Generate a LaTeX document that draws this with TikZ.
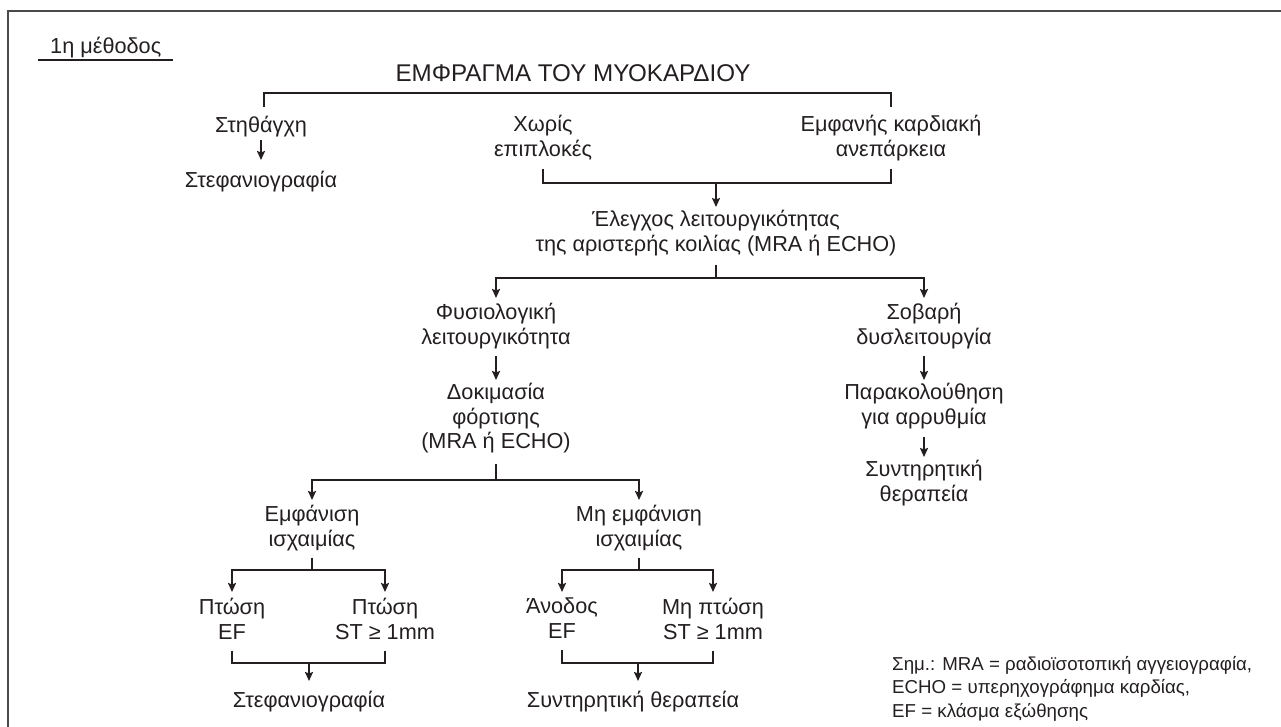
\documentclass[tikz,border=0pt]{standalone}
\usepackage{fontspec}
\setmainfont{Liberation Sans}
\usetikzlibrary{arrows.meta}
\definecolor{ink}{HTML}{231F20}
\definecolor{framec}{HTML}{4A4A4A}
\newlength\fitlen
\AtBeginDocument{%
  \settowidth\fitlen{\normalfont\fontsize{10}{12}\selectfont της αριστερής κοιλίας (MRA ή ECHO)}%
  \pgfmathsetmacro\bfs{10*361/\fitlen}%
  \settowidth\fitlen{\normalfont\fontsize{10}{12}\selectfont ΕΜΦΡΑΓΜΑ ΤΟΥ ΜΥΟΚΑΡΔΙΟΥ}%
  \pgfmathsetmacro\tfs{10*355/\fitlen}%
  \settowidth\fitlen{\normalfont\fontsize{10}{12}\selectfont Σημ.: MRA = ραδιοϊσοτοπική αγγειογραφία,}%
  \pgfmathsetmacro\nfs{10*360/\fitlen}%
}
\begin{document}
\begin{tikzpicture}[x=1pt,y=-1pt,
  txt/.style={anchor=north,align=center,inner sep=0pt,text=ink,
    font=\fontsize{\bfs}{24.5}\selectfont,
    execute at begin node=\strut, execute at end node=\strut},
  ln/.style={draw=ink,line width=1.8pt},
  arr/.style={ln,-{Stealth[length=9pt,width=8pt,inset=1.5pt]}}]
\useasboundingbox (0,0) rectangle (1281,727);
% frame
\draw[framec,line width=2pt] (8,727) -- (8,11) -- (1281,11);
% heading
\node[anchor=base west,inner sep=0pt,text=ink,font=\fontsize{\bfs}{24.5}\selectfont] (meth) at (50,54) {1η μέθοδος};
\draw[ln,line width=1.5pt] (38,60) -- (173,60);
\node[anchor=base,inner sep=0pt,text=ink,font=\fontsize{\tfs}{30}\selectfont] (title) at (573,82) {ΕΜΦΡΑΓΜΑ ΤΟΥ ΜΥΟΚΑΡΔΙΟΥ};
% nodes
\node[txt] (stith) at (261,115) {Στηθάγχη};
\node[txt] (stef1) at (261,170) {Στεφανιογραφία};
\node[txt] (xoris) at (543,115) {Χωρίς\\επιπλοκές};
\node[txt] (emfan) at (891,115) {Εμφανής καρδιακή\\ανεπάρκεια};
\node[txt] (elegx) at (716,210) {Έλεγχος λειτουργικότητας\\της αριστερής κοιλίας (MRA ή ECHO)};
\node[txt] (fysio) at (496,303) {Φυσιολογική\\λειτουργικότητα};
\node[txt] (sovar) at (924,303) {Σοβαρή\\δυσλειτουργία};
\node[txt] (dokim) at (496,383) {Δοκιμασία\\φόρτισης\\(MRA ή ECHO)};
\node[txt] (parak) at (924,383) {Παρακολούθηση\\για αρρυθμία};
\node[txt] (synt1) at (924,460) {Συντηρητική\\θεραπεία};
\node[txt] (emfis) at (312,505) {Εμφάνιση\\ισχαιμίας};
\node[txt] (miemf) at (639,505) {Μη εμφάνιση\\ισχαιμίας};
\node[txt] (pt1) at (232,598) {Πτώση\\EF};
\node[txt] (pt2) at (385,598) {Πτώση\\ST ≥ 1mm};
\node[txt] (anod) at (562,598) {Άνοδος\\EF};
\node[txt] (mipt) at (713,598) {Μη πτώση\\ST ≥ 1mm};
\node[txt] (stef2) at (309,690) {Στεφανιογραφία};
\node[txt] (synt2) at (633,690) {Συντηρητική θεραπεία};
\node[txt,anchor=north west,align=left,font=\fontsize{\nfs}{23.5}\selectfont] (note) at (892,656) {Σημ.: MRA = ραδιοϊσοτοπική αγγειογραφία,\\ECHO = υπερηχογράφημα καρδίας,\\EF = κλάσμα εξώθησης};
% junction coordinates
\coordinate (topL) at (264,107);
\coordinate (topR) at (891,107);
\coordinate (j1) at (716,183);
\coordinate (j2) at (716,278);
\coordinate (j3) at (496,480);
\coordinate (j4) at (312,570);
\coordinate (j5) at (639,570);
\coordinate (j6) at (309,663);
\coordinate (j7) at (638,663);
% top bracket
\draw[ln] (topL) -- (topL |- 0,93) -- (topR |- 0,93) -- (topR);
% left column
\draw[arr] (stith.south) -- ([yshift=10pt]stef1.north);
% middle bracket
\draw[ln] ([yshift=-5pt]xoris.south) |- (j1) -| ([yshift=-5pt]emfan.south);
\draw[arr] (j1) -- ([yshift=3pt]elegx.north);
% split after Elegxos
\draw[ln] ([yshift=-6pt]elegx.south) -- (j2);
\draw[arr] (j2) -| ([yshift=5pt]fysio.north);
\draw[arr] (j2) -| ([yshift=5pt]sovar.north);
\draw[arr] ([yshift=-4pt]fysio.south) -- ([yshift=3pt]dokim.north);
\draw[arr] ([yshift=-4pt]sovar.south) -- ([yshift=3pt]parak.north);
\draw[arr] ([yshift=-5pt]parak.south) -- ([yshift=3pt]synt1.north);
% split after Dokimasia
\draw[ln] ([yshift=-8pt]dokim.south) -- (j3);
\draw[arr] (j3) -| ([yshift=5pt]emfis.north);
\draw[arr] (j3) -| ([yshift=5pt]miemf.north);
% left lower branch
\draw[ln] ([yshift=-4pt]emfis.south) -- (j4);
\draw[arr] (j4) -| ([yshift=6pt]pt1.north);
\draw[arr] (j4) -| ([yshift=6pt]pt2.north);
\draw[ln] ([yshift=-4pt]pt1.south) |- (j6) -| ([yshift=-4pt]pt2.south);
\draw[arr] (j6) -- ([yshift=9pt]stef2.north);
% right lower branch
\draw[ln] ([yshift=-4pt]miemf.south) -- (j5);
\draw[arr] (j5) -| ([yshift=6pt]anod.north);
\draw[arr] (j5) -| ([yshift=6pt]mipt.north);
\draw[ln] ([yshift=-4pt]anod.south) |- (j7) -| ([yshift=-4pt]mipt.south);
\draw[arr] (j7) -- ([yshift=9pt]synt2.north -| j7);
\end{tikzpicture}
\end{document}
